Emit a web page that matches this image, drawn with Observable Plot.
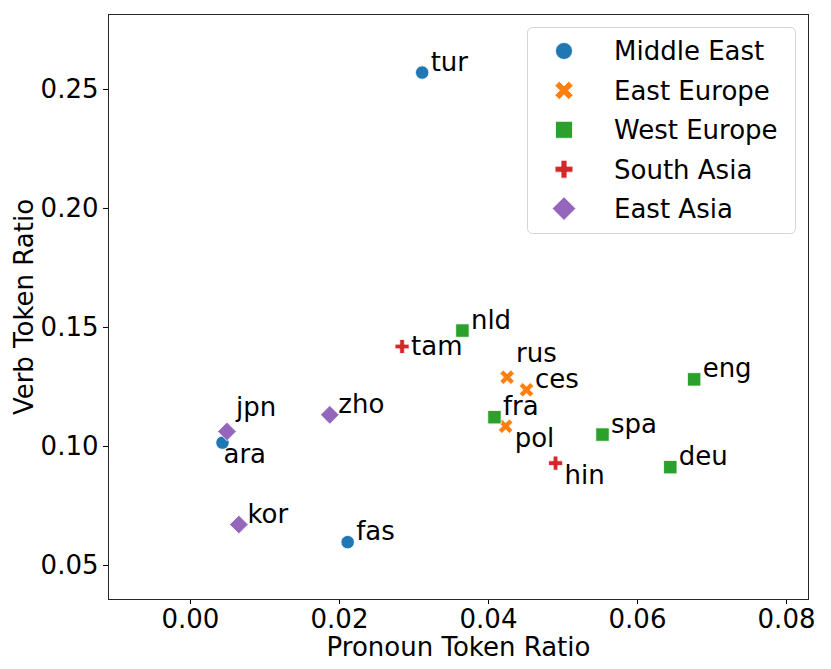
<!DOCTYPE html>
<html><head><meta charset="utf-8">
<script src="https://cdn.jsdelivr.net/npm/d3@7"></script>
<script src="https://cdn.jsdelivr.net/npm/@observablehq/plot@0.6"></script>
<style>
body{margin:0;background:#fff;}
#wrap{position:relative;width:831px;height:669px;font-family:"DejaVu Sans",sans-serif;}
#legend{position:absolute;left:527px;top:27px;}
</style></head><body><div id="wrap"></div>
<script>
// ---- data ----
const languages = ["tur","ara","fas","rus","ces","pol","nld","fra","spa","eng","deu","tam","hin","jpn","zho","kor"];
const regions = ["Middle East","Middle East","Middle East","East Europe","East Europe","East Europe","West Europe","West Europe","West Europe","West Europe","West Europe","South Asia","South Asia","East Asia","East Asia","East Asia"];
const pronounRatio = [0.0311,0.0043,0.0211,0.0425,0.0451,0.0423,0.0365,0.0408,0.0553,0.0676,0.0644,0.0284,0.0490,0.0049,0.0187,0.0065];
const verbRatio   = [0.2571,0.1016,0.0598,0.1291,0.1238,0.1085,0.1487,0.1123,0.1050,0.1282,0.0913,0.1420,0.0930,0.1063,0.1133,0.0672];
const regionOrder = ["Middle East","East Europe","West Europe","South Asia","East Asia"];
const regionColors = ["#1f77b4","#ff7f0e","#2ca02c","#d62728","#9467bd"];
const xTicks = [0.00,0.02,0.04,0.06,0.08];
const yTicks = [0.05,0.10,0.15,0.20,0.25];

const data = languages.map((l,i)=>({lang:l, region:regions[i], x:pronounRatio[i], y:verbRatio[i]}));

// ---- marker shapes (seaborn-like filled markers) ----
function poly(ctx, pts){ctx.moveTo(pts[0][0],pts[0][1]);for(let i=1;i<pts.length;i++)ctx.lineTo(pts[i][0],pts[i][1]);ctx.closePath();}
function plusPts(a,w){return [[-w,-a],[w,-a],[w,-w],[a,-w],[a,w],[w,w],[w,a],[-w,a],[-w,w],[-a,w],[-a,-w],[-w,-w]];}
const rad = s => Math.sqrt(s/Math.PI);
const symCircle = {draw(ctx,s){const r=rad(s);ctx.moveTo(r,0);ctx.arc(0,0,r,0,2*Math.PI);}};
const symSquare = {draw(ctx,s){const r=rad(s);poly(ctx,[[-r,-r],[r,-r],[r,r],[-r,r]]);}};
const symDiamond = {draw(ctx,s){const d=rad(s)*1.39;poly(ctx,[[0,-d],[d,0],[0,d],[-d,0]]);}};
const symPlus = {draw(ctx,s){const r=rad(s)*1.05;poly(ctx,plusPts(r,r/3));}};
const symX = {draw(ctx,s){const r=rad(s)*1.08;const w=0.34*r,L=1.414*r-w;const c=Math.SQRT1_2;
  poly(ctx,plusPts(L,w).map(([x,y])=>[c*(x-y),c*(x+y)]));}};
const regionSymbols = [symCircle,symX,symSquare,symPlus,symDiamond];

// label placement around each marker
const placement = {rus:"n", jpn:"n", tam:"e", pol:"s", hin:"s", ara:"sw"};
const place = d => placement[d.lang] || "ne";
const fmt = d3.format(".2f");

const textOpts = {x:"x", y:"y", text:"lang", fontSize:26, fill:"#000", textAnchor:"start"};

const plot = Plot.plot({
  width:831, height:669,
  marginLeft:108, marginRight:23, marginTop:14, marginBottom:70,
  style:{fontFamily:"'DejaVu Sans', sans-serif", fontSize:"26px", background:"white", color:"#000", overflow:"visible"},
  x:{domain:[-0.0110,0.08295]},
  y:{domain:[0.0357,0.2815]},
  color:{domain:regionOrder, range:regionColors},
  symbol:{domain:regionOrder, range:regionSymbols},
  marks:[
    Plot.axisX({ticks:xTicks, tickFormat:fmt, tickSize:5, tickPadding:5, fontSize:26,
      label:"Pronoun Token Ratio", labelAnchor:"center", labelArrow:"none", labelOffset:56}),
    Plot.axisY({ticks:yTicks, tickFormat:fmt, tickSize:5, tickPadding:5, fontSize:26,
      label:"Verb Token Ratio", labelAnchor:"center", labelArrow:"none", labelOffset:94}),
    Plot.frame({stroke:"#262626", strokeWidth:1}),
    Plot.dot(data, {x:"x", y:"y", fill:"region", symbol:"region", r:6.7, stroke:"white", strokeWidth:0.8}),
    Plot.text(data.filter(d=>place(d)==="ne"), {...textOpts, lineAnchor:"bottom", dx:8.5, dy:-2}),
    Plot.text(data.filter(d=>place(d)==="n"), {...textOpts, lineAnchor:"bottom", dx:9, dy:-15}),
    Plot.text(data.filter(d=>place(d)==="e"), {...textOpts, lineAnchor:"middle", dx:9, dy:0}),
    Plot.text(data.filter(d=>place(d)==="s"), {...textOpts, lineAnchor:"bottom", dx:9, dy:21}),
    Plot.text(data.filter(d=>place(d)==="sw"), {...textOpts, lineAnchor:"bottom", dx:1, dy:20})
  ]
});

const wrap = document.getElementById("wrap");
wrap.appendChild(plot);

// ---- legend (drawn over the plot, upper right) ----
const lw = 268, lh = 206;
const leg = d3.select(wrap).append("svg").attr("id","legend")
  .attr("width",lw+2).attr("height",lh+2)
  .style("font-family","'DejaVu Sans', sans-serif");
leg.append("rect").attr("x",0.5).attr("y",0.5).attr("width",lw).attr("height",lh)
  .attr("rx",5).attr("fill","white").attr("fill-opacity",0.8).attr("stroke","#d4d4d4");
const legR = 8.5;
regionOrder.forEach((name,i)=>{
  const cy = 24 + i*39.4;
  const p = d3.path();
  regionSymbols[i].draw(p, Math.PI*legR*legR);
  leg.append("path").attr("d",p.toString()).attr("transform",`translate(37,${cy})`)
    .attr("fill",regionColors[i]).attr("stroke","white").attr("stroke-width",0.8);
  leg.append("text").attr("x",87).attr("y",cy).attr("dy","0.36em")
    .attr("font-size",26).attr("fill","#000").text(name);
});
</script></body></html>
